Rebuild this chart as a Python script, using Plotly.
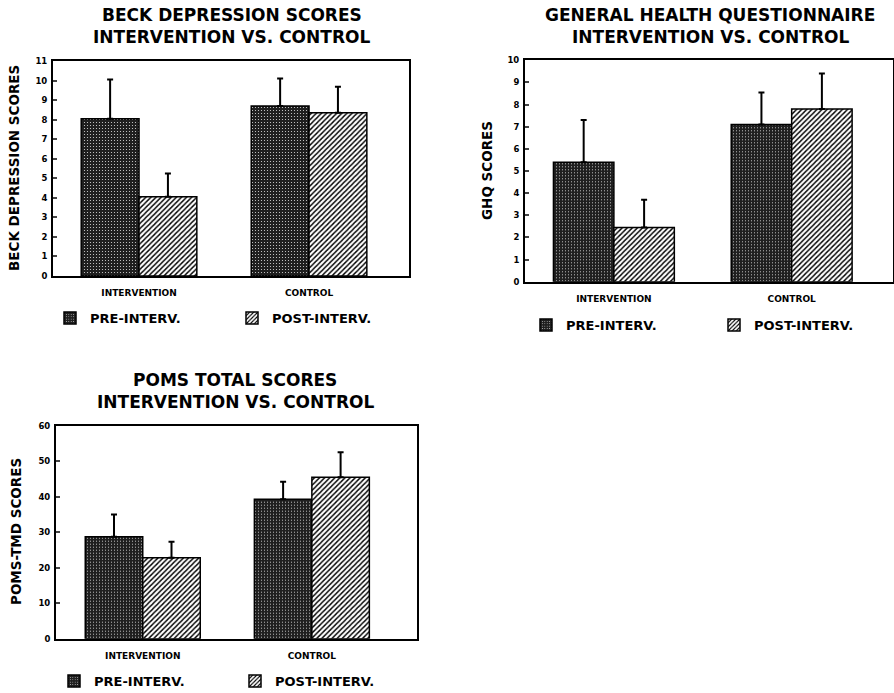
import plotly.graph_objects as go

# ---- data -------------------------------------------------------------
categories = ["INTERVENTION", "CONTROL"]
series_names = ["PRE-INTERV.", "POST-INTERV."]

beck_pre = [8.05, 8.7]
beck_pre_sd = [2.0, 1.4]
beck_post = [4.05, 8.35]
beck_post_sd = [1.2, 1.33]

ghq_pre = [5.4, 7.1]
ghq_pre_sd = [1.9, 1.45]
ghq_post = [2.45, 7.8]
ghq_post_sd = [1.25, 1.6]

poms_pre = [28.7, 39.3]
poms_pre_sd = [6.3, 4.9]
poms_post = [22.8, 45.5]
poms_post_sd = [4.5, 7.0]

W, H = 894, 693
FONT = "DejaVu Sans"

pre_marker = dict(
    color="#1f1f1f",
    line=dict(color="black", width=1.5),
    pattern=dict(shape=".", fgcolor="#d8d8d8", bgcolor="#1f1f1f",
                 size=3, solidity=0.12, fillmode="replace"),
)
post_marker = dict(
    color="white",
    line=dict(color="black", width=1.5),
    pattern=dict(shape="/", fgcolor="black", bgcolor="white",
                 size=3.6, solidity=0.38, fillmode="replace"),
)


def err(sd):
    return dict(type="data", array=sd, arrayminus=[0] * len(sd),
                symmetric=False, color="black", thickness=2, width=3)


fig = go.Figure()

panels = [
    ("x", "y", "legend", beck_pre, beck_pre_sd, beck_post, beck_post_sd),
    ("x2", "y2", "legend2", ghq_pre, ghq_pre_sd, ghq_post, ghq_post_sd),
    ("x3", "y3", "legend3", poms_pre, poms_pre_sd, poms_post, poms_post_sd),
]
for xa, ya, lg, pre, pre_sd, post, post_sd in panels:
    fig.add_trace(go.Bar(x=categories, y=pre, name=series_names[0],
                         marker=pre_marker, error_y=err(pre_sd),
                         xaxis=xa, yaxis=ya, legend=lg))
    fig.add_trace(go.Bar(x=categories, y=post, name=series_names[1],
                         marker=post_marker, error_y=err(post_sd),
                         xaxis=xa, yaxis=ya, legend=lg))


def px_x(v):
    return v / W


def px_y(v):
    return 1 - v / H


axis_common = dict(showline=True, linecolor="black", linewidth=2,
                   mirror=True, showgrid=False, zeroline=False)

xfont = dict(family=FONT, size=9, color="black", weight="bold")
yfont = dict(family=FONT, size=8.5, color="black", weight="bold")

layout = dict(
    width=W, height=H,
    margin=dict(l=0, r=0, t=0, b=0, autoexpand=False),
    paper_bgcolor="white", plot_bgcolor="white",
    barmode="group", bargap=0.32, bargroupgap=0,
    font=dict(family=FONT, color="black"),
    xaxis=dict(domain=[px_x(53), px_x(409)], range=[-0.506, 1.588],
               anchor="y", ticks="", tickfont=xfont, ticklabelstandoff=7,
               **axis_common),
    yaxis=dict(domain=[px_y(276), px_y(61)], range=[0, 11], dtick=1,
               anchor="x", ticks="inside", ticklen=4, tickwidth=1.5,
               tickfont=yfont, ticklabelstandoff=2, **axis_common),
    xaxis2=dict(domain=[px_x(525), px_x(893)], range=[-0.5, 1.57],
                anchor="y2", ticks="", tickfont=xfont, ticklabelstandoff=7,
                **axis_common),
    yaxis2=dict(domain=[px_y(281.7), px_y(60.3)], range=[0, 10], dtick=1,
                anchor="x2", ticks="inside", ticklen=4, tickwidth=1.5,
                tickfont=yfont, ticklabelstandoff=2, **axis_common),
    xaxis3=dict(domain=[px_x(56), px_x(416.7)], range=[-0.513, 1.62],
                anchor="y3", ticks="", tickfont=xfont, ticklabelstandoff=7,
                **axis_common),
    yaxis3=dict(domain=[px_y(638.7), px_y(425.7)], range=[0, 60], dtick=10,
                anchor="x3", ticks="inside", ticklen=4, tickwidth=1.5,
                tickfont=yfont, ticklabelstandoff=2, **axis_common),
)

legend_common = dict(orientation="h", xanchor="left", yanchor="middle",
                     font=dict(family=FONT, size=13, color="black",
                               weight="bold"),
                     entrywidthmode="pixels",
                     bgcolor="rgba(0,0,0,0)", traceorder="normal")
layout["legend"] = dict(x=px_x(50), y=px_y(318), entrywidth=137,
                        **legend_common)
layout["legend2"] = dict(x=px_x(526), y=px_y(325), entrywidth=143,
                         **legend_common)
layout["legend3"] = dict(x=px_x(54), y=px_y(681), entrywidth=136,
                         **legend_common)

fig.update_layout(**layout)

# panel titles
titles = [
    ("BECK DEPRESSION SCORES", 232, 15),
    ("INTERVENTION VS. CONTROL", 232, 37),
    ("GENERAL HEALTH QUESTIONNAIRE", 710, 15),
    ("INTERVENTION VS. CONTROL", 710, 37),
    ("POMS TOTAL SCORES", 235, 380),
    ("INTERVENTION VS. CONTROL", 235, 402),
]
for text, x, y in titles:
    fig.add_annotation(text=text, x=px_x(x), y=px_y(y), xref="paper",
                       yref="paper", showarrow=False, xanchor="center",
                       yanchor="middle",
                       font=dict(family=FONT, size=17, color="black",
                                 weight="bold"))

# rotated y-axis titles
ytitles = [
    ("BECK DEPRESSION SCORES", 14, 168),
    ("GHQ SCORES", 487, 171),
    ("POMS-TMD SCORES", 16, 532),
]
for text, x, y in ytitles:
    fig.add_annotation(text=text, x=px_x(x), y=px_y(y), xref="paper",
                       yref="paper", showarrow=False, textangle=-90,
                       xanchor="center", yanchor="middle",
                       font=dict(family=FONT, size=13.5, color="black",
                                 weight="bold"))

fig.write_html("out.html")
